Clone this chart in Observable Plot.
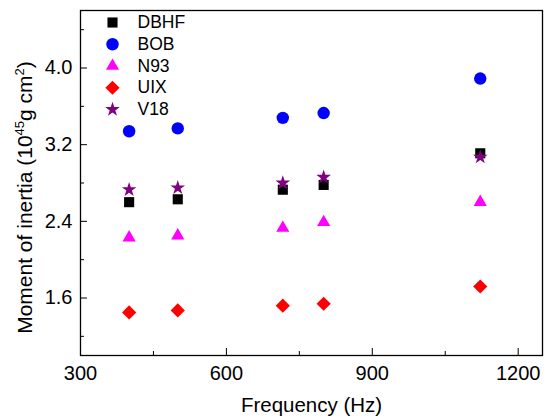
<!DOCTYPE html>
<html><head><meta charset="utf-8">
<script src="https://cdn.jsdelivr.net/npm/d3@7"></script>
<script src="https://cdn.jsdelivr.net/npm/@observablehq/plot@0.6"></script>
<style>body{margin:0;background:#fff} svg{display:block}</style>
</head><body><div id="chart"></div>
<script>
const frequency = [400, 500, 716, 800, 1122];
const seriesNames = ["DBHF", "BOB", "N93", "UIX", "V18"];
const DBHF = [2.60, 2.63, 2.73, 2.78, 3.11];
const BOB  = [3.34, 3.37, 3.48, 3.53, 3.89];
const N93  = [2.23, 2.25, 2.33, 2.39, 2.60];
const UIX  = [1.45, 1.47, 1.52, 1.54, 1.72];
const V18  = [2.73, 2.75, 2.80, 2.86, 3.07];
const xTicks = [300, 600, 900, 1200];
const xMinor = [450, 750, 1050];
const yTicks = [1.6, 2.4, 3.2, 4.0];
const yMinor = [1.2, 2.0, 2.8, 3.6, 4.4];

const values = {DBHF, BOB, N93, UIX, V18};
const style = {
  DBHF: {symbol: "square",   fill: "#000000", r: 5.7},
  BOB:  {symbol: "circle",   fill: "#0000ff", r: 6.2},
  N93:  {symbol: "triangle", fill: "#ff00ff", r: 4.9},
  UIX:  {symbol: "diamond2", fill: "#ff0000", r: 6.4},
  V18:  {symbol: "star",     fill: "#800080", r: 4.6}
};
const rows = seriesNames.flatMap(s => frequency.map((f, i) => ({series: s, f, I: values[s][i]})));

const W = 544, H = 417, mL = 80, mR = 2, mT = 10, mB = 62;
const fw = W - mL - mR, fh = H - mT - mB;
const font = "'Liberation Sans', Arial, Helvetica, sans-serif";

const marks = [
  Plot.axisX({ticks: xTicks, tickSize: 0, tickPadding: 10, fontSize: 20, tickFormat: d3.format("d"), label: null}),
  Plot.axisY({ticks: yTicks, tickSize: 0, tickPadding: 8, fontSize: 20, tickFormat: d3.format(".1f"), label: null}),
  Plot.tickX(xTicks, {x: d => d, insetTop: fh - 7, stroke: "#000", strokeWidth: 1}),
  Plot.tickX(xMinor, {x: d => d, insetTop: fh - 4, stroke: "#000", strokeWidth: 1}),
  Plot.tickY(yTicks, {y: d => d, insetRight: fw - 7, stroke: "#000", strokeWidth: 1}),
  Plot.tickY(yMinor, {y: d => d, insetRight: fw - 4, stroke: "#000", strokeWidth: 1}),
  ...seriesNames.map(s => Plot.dot(rows.filter(d => d.series === s), {
    x: "f", y: "I", symbol: style[s].symbol, fill: style[s].fill, r: style[s].r, stroke: "none"
  })),
  ...seriesNames.flatMap((s, i) => [
    Plot.dot([s], {frameAnchor: "top-left", dx: 32, dy: 12 + 21.75 * i, symbol: style[s].symbol, fill: style[s].fill, r: style[s].r, stroke: "none"}),
    Plot.text([s], {frameAnchor: "top-left", dx: 57, dy: 12 + 21.75 * i, text: d => d, textAnchor: "start", lineAnchor: "middle", fontSize: 17.5, fill: "#000"})
  ]),
  Plot.text(["Frequency (Hz)"], {frameAnchor: "bottom", dy: 50, text: d => d, lineAnchor: "middle", fontSize: 20.5, fill: "#000"}),
  Plot.frame({stroke: "#000", strokeWidth: 1.3})
];

const chart = Plot.plot({
  width: W, height: H,
  marginLeft: mL, marginRight: mR, marginTop: mT, marginBottom: mB,
  style: {fontFamily: font, fontSize: "20px", color: "#000", background: "#fff"},
  x: {domain: [300, 1250]},
  y: {domain: [1.0, 4.6]},
  marks
});

const svg = d3.select(chart);
const lab = svg.append("text")
  .attr("transform", "translate(32,197.5) rotate(-90)")
  .attr("text-anchor", "middle")
  .attr("font-size", 21)
  .attr("font-family", font)
  .attr("fill", "#000");
lab.append("tspan").text("Moment of inertia (10");
lab.append("tspan").attr("font-size", 13).attr("dy", -8).text("45");
lab.append("tspan").attr("dy", 8).text("g cm");
lab.append("tspan").attr("font-size", 13).attr("dy", -8).text("2");
lab.append("tspan").attr("dy", 8).text(")");

document.getElementById("chart").appendChild(chart);
</script>
</body></html>
